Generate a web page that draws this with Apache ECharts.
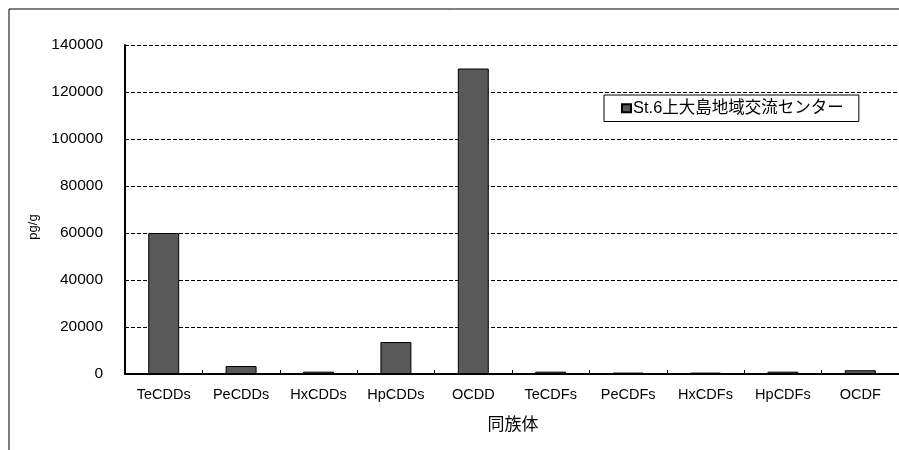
<!DOCTYPE html>
<html><head><meta charset="utf-8">
<script src="https://cdn.jsdelivr.net/npm/echarts@6/dist/echarts.min.js"></script>
<style>html,body{margin:0;padding:0;background:#fff}#c{width:899px;height:450px}</style>
</head><body><div id="c"></div>
<script>
const categories = ['TeCDDs','PeCDDs','HxCDDs','HpCDDs','OCDD','TeCDFs','PeCDFs','HxCDFs','HpCDFs','OCDF'];
const seriesName = 'St.6上大島地域交流センター';
const values = [60000, 3400, 1000, 13600, 130000, 1000, 600, 600, 1000, 1600];
const yTitle = 'pg/g';
const xTitle = '同族体';
const FONT = '"Liberation Sans", "Noto Sans CJK JP", sans-serif';
const chart = echarts.init(document.getElementById('c'));
chart.setOption({
  animation: false,
  backgroundColor: '#fff',
  textStyle: {fontFamily: FONT},
  graphic: [
    {type: 'rect', shape: {x: 9, y: 9, width: 950, height: 500}, style: {fill: 'none', stroke: '#000', lineWidth: 1}, z: -1},
    {type: 'text', x: 33, y: 227, rotation: Math.PI / 2,
      style: {text: yTitle, font: '13px ' + FONT, fill: '#000', align: 'center', verticalAlign: 'middle'}},
    {type: 'text', x: 513, y: 425,
      style: {text: xTitle, font: '17px ' + FONT, fill: '#000', align: 'center', verticalAlign: 'middle'}}
  ],
  grid: {left: 125, top: 45, width: 780, height: 329, containLabel: false},
  legend: {
    data: [seriesName], left: 604, top: 95, itemWidth: 9, itemHeight: 8, itemGap: 2,
    padding: [5, 15, 5, 17], borderColor: '#000', borderWidth: 1, backgroundColor: '#fff',
    textStyle: {fontFamily: FONT, fontSize: 16.5, color: '#000', padding: [0, 0, 0, -3]}, icon: 'rect'
  },
  xAxis: {
    type: 'category', data: categories,
    axisLine: {lineStyle: {color: '#000', width: 2}},
    axisTick: {show: true, inside: true, length: 4, lineStyle: {color: '#000'}},
    axisLabel: {fontFamily: FONT, fontSize: 14.5, color: '#000', margin: 14}
  },
  yAxis: {
    type: 'value', min: 0, max: 140000, interval: 20000,
    axisLine: {show: true, lineStyle: {color: '#000', width: 2}},
    axisTick: {show: false},
    axisLabel: {fontFamily: FONT, fontSize: 15.5, color: '#000', margin: 22, formatter: v => String(v)},
    splitLine: {show: true, lineStyle: {color: '#000', type: [4, 2], width: 1}}
  },
  series: [{
    name: seriesName, type: 'bar', data: values, barWidth: '40%',
    itemStyle: {color: '#595959', borderColor: '#000', borderWidth: 1}
  }]
});
</script></body></html>
